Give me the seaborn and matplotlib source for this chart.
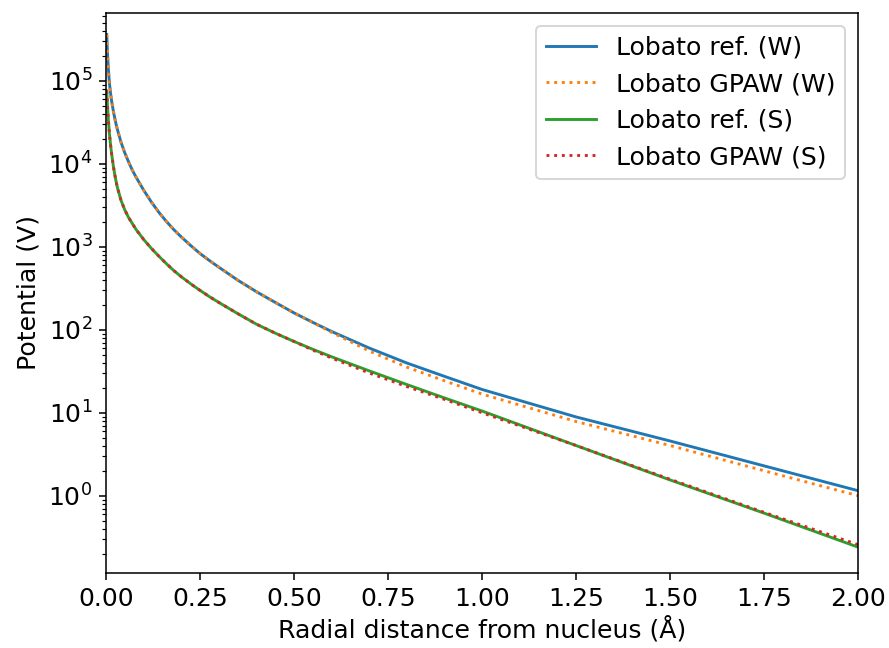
import numpy as np
import pandas as pd
import matplotlib
matplotlib.use("Agg")
import matplotlib.pyplot as plt
import seaborn as sns

# radial distance (Angstrom)
radius = [0.002, 0.004, 0.006, 0.009, 0.012, 0.015, 0.02, 0.025, 0.03, 0.04,
          0.05, 0.06, 0.07, 0.08, 0.1, 0.12, 0.14, 0.16, 0.18, 0.2,
          0.225, 0.25, 0.275, 0.3, 0.35, 0.4, 0.45, 0.5, 0.55, 0.6,
          0.7, 0.8, 0.9, 1.0, 1.25, 1.5, 1.75, 2.0]

# potential (V)
w_ref = [363000, 214000, 145000, 95500, 71600, 56900, 42200, 32700, 26300, 18200,
         13600, 10600, 8410, 6920, 4840, 3510, 2630, 2040, 1620, 1320,
         1040, 832, 684, 569, 398, 288, 214, 160, 123, 95.5,
         60.3, 39.8, 27.5, 19.1, 8.91, 4.57, 2.29, 1.15]
w_gpaw = [363000, 214000, 145000, 95500, 71600, 56900, 42200, 32700, 26300, 18200,
          13600, 10600, 8410, 6920, 4840, 3510, 2630, 2040, 1620, 1320,
          1040, 832, 684, 569, 398, 288, 214, 160, 123, 93.3,
          55.6, 35.5, 24.3, 16.8, 7.85, 4.03, 2.0, 1.0]
s_ref = [75900, 50100, 35500, 23400, 17200, 13200, 9120, 6760, 5250, 3630,
         2790, 2260, 1910, 1620, 1230, 966, 776, 631, 519, 437,
         359, 299, 251, 214, 157, 117, 91.2, 72.4, 58.2, 47.3,
         32.0, 21.9, 15.1, 10.5, 4.03, 1.55, 0.617, 0.240]
s_gpaw = [75900, 50100, 35500, 23400, 17200, 13200, 9120, 6760, 5250, 3630,
          2790, 2260, 1910, 1620, 1230, 966, 776, 631, 519, 437,
          359, 299, 251, 214, 157, 117, 91.2, 72.4, 56.9, 45.7,
          30.2, 20.7, 14.5, 10.0, 4.03, 1.58, 0.631, 0.257]

df = pd.DataFrame({'r': radius, 'w_ref': w_ref, 'w_gpaw': w_gpaw,
                   's_ref': s_ref, 's_gpaw': s_gpaw})

plt.rcParams['font.size'] = 13

fig, ax = plt.subplots(figsize=(889 / 139, 648 / 139), dpi=139)
fig.subplots_adjust(left=106 / 889, right=858 / 889, top=1 - 13 / 648, bottom=1 - 573 / 648)

sns.lineplot(data=df, x='r', y='w_ref', color='tab:blue', label='Lobato ref. (W)', ax=ax)
sns.lineplot(data=df, x='r', y='w_gpaw', color='tab:orange', linestyle=':', label='Lobato GPAW (W)', ax=ax)
sns.lineplot(data=df, x='r', y='s_ref', color='tab:green', label='Lobato ref. (S)', ax=ax)
sns.lineplot(data=df, x='r', y='s_gpaw', color='tab:red', linestyle=':', label='Lobato GPAW (S)', ax=ax)

ax.set_yscale('log')
ax.set_xlim(0, 2)
ax.set_ylim(0.117, 6.6e5)
ax.set_xlabel('Radial distance from nucleus (Å)', labelpad=3)
ax.set_ylabel('Potential (V)')
ax.legend(loc='upper right')

fig.savefig('out.png', dpi=139)
